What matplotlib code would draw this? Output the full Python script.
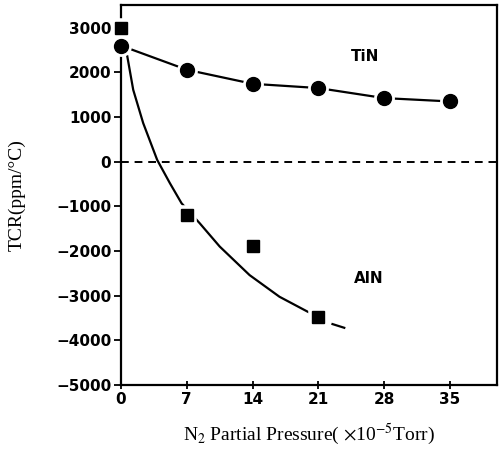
import matplotlib.pyplot as plt

plt.rcParams["mathtext.fontset"] = "stix"

# measured TCR values
x_tin = [0, 7, 14, 21, 28, 35]
tcr_tin = [2600, 2060, 1745, 1650, 1425, 1350]

x_aln = [0, 7, 14, 21]
tcr_aln = [3000, -1200, -1890, -3470]

# hand-drawn trend through the AlN points
x_aln_fit = [0.67, 1.3, 2.36, 3.85, 5.2, 6.44, 8.38, 10.5, 13.68, 16.86, 19.86, 21.6]
tcr_aln_fit = [2360, 1610, 865, 40, -480, -930, -1380, -1900, -2540, -3025, -3360, -3520]
x_aln_ext = [22.5, 23.75]
tcr_aln_ext = [-3637, -3720]

xticks = [0, 7, 14, 21, 28, 35]
yticks = [-5000, -4000, -3000, -2000, -1000, 0, 1000, 2000, 3000]

fig = plt.figure(figsize=(5, 4.55), dpi=100)
ax = fig.add_axes([0.242, 0.154, 0.752, 0.834])

ax.axhline(0, color="black", lw=1.4, ls=(0, (4, 3)), zorder=1)

# TiN: line broken around the markers
ax.plot(x_tin, tcr_tin, color="black", lw=1.6, zorder=2)
ax.plot(x_tin, tcr_tin, "o", ms=11, mfc="black", mec="white", mew=4, zorder=3, clip_on=False)
ax.plot(x_tin, tcr_tin, "o", ms=10, color="black", zorder=4, clip_on=False)

# AlN
ax.plot(x_aln_fit, tcr_aln_fit, color="black", lw=1.6, zorder=2)
ax.plot(x_aln_ext, tcr_aln_ext, color="black", lw=1.6, zorder=2)
ax.plot(x_aln, tcr_aln, "s", ms=9.5, mfc="black", mec="white", mew=4, zorder=3, clip_on=False)
ax.plot(x_aln, tcr_aln, "s", ms=9, color="black", zorder=4, clip_on=False)

ax.text(26, 2360, "TiN", fontsize=11, fontweight="bold", ha="center", va="center")
ax.text(26.4, -2610, "AlN", fontsize=11, fontweight="bold", ha="center", va="center")

ax.set_xlim(0, 40)
ax.set_ylim(-5000, 3500)
ax.set_xticks(xticks)
ax.set_yticks(yticks)
ax.set_yticklabels([str(v).replace("-", "\u2212") for v in yticks])
ax.tick_params(axis="x", direction="inout", length=6, width=1.3, labelsize=11, pad=2)
ax.tick_params(axis="y", direction="out", length=5, width=1.3, labelsize=11, pad=2)
for lab in ax.get_xticklabels() + ax.get_yticklabels():
    lab.set_fontweight("bold")
for s in ax.spines.values():
    s.set_linewidth(1.6)

ax.set_xlabel(r"N$_2$ Partial Pressure( $\times$10$^{-5}$Torr)", family="Liberation Serif",
              fontsize=14, labelpad=11)
ax.set_ylabel("TCR(ppm/\u00b0C)", family="Liberation Serif", fontsize=14, labelpad=22)

fig.savefig("out.png", dpi=100)
